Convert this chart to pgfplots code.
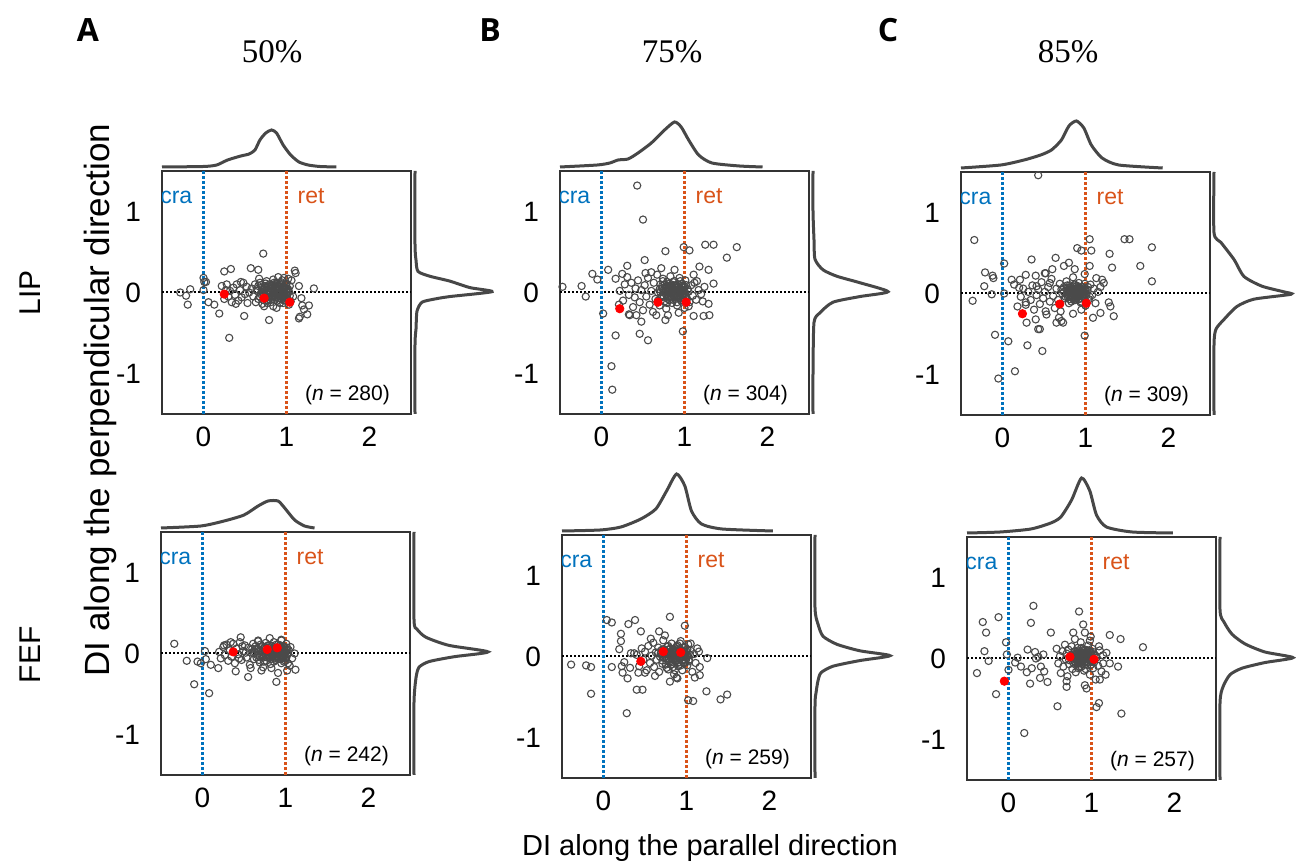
\documentclass[border=0pt]{standalone}
\usepackage{pgfplots}
\pgfplotsset{compat=1.18}
\usepackage{fontspec}
\setmainfont{Liberation Sans}
\newfontfamily\serifnum{Liberation Serif}
\newfontfamily\headfont{Open Sans}

\definecolor{cracol}{HTML}{0072BD}
\definecolor{retcol}{HTML}{D95319}
\definecolor{ptcol}{HTML}{4A4A4A}
\definecolor{denscol}{HTML}{474747}
\definecolor{boxcol}{HTML}{333333}

\newcommand{\tickfont}{\fontsize{14}{15}\selectfont}

\pgfplotsset{
  mainax/.style={anchor=south west, scale only axis, width=124.5pt, height=121.5pt,
    xmin=-0.5, xmax=2.5, ymin=-1.5, ymax=1.5, xtick={0,1,2}, ytick={-1,0,1},
    major tick length=0pt, axis line style={boxcol, line width=1pt},
    /pgf/number format/assume math mode=true,
    xticklabel style={font=\tickfont, yshift=-3pt},
    yticklabel style={font=\tickfont, xshift=-7pt}},
  topax/.style={anchor=south west, scale only axis, hide axis, width=124.5pt, height=25pt,
    xmin=-0.5, xmax=2.5, ymin=0, ymax=50, clip=false},
  rightax/.style={anchor=south west, scale only axis, hide axis, width=50pt, height=121.5pt,
    xmin=0, xmax=100, ymin=-1.5, ymax=1.5, clip=false},
  densline/.style={denscol, line width=1.5pt, smooth, tension=0.4, no markers},
  pts/.style={only marks, mark=o, mark size=1.8pt, ptcol, mark options={line width=0.55pt}},
  redpts/.style={only marks, mark=*, mark size=2.1pt, red},
}

% dotted guides and panel texts
\newcommand{\guides}[1]{%
  \addplot[black, line width=1pt, dash pattern=on 1pt off 1pt, no markers] coordinates {(-0.5,0) (2.5,0)};
  \addplot[cracol, line width=1.5pt, dash pattern=on 1.5pt off 1pt, no markers] coordinates {(0,-1.5) (0,1.5)};
  \addplot[retcol, line width=1.5pt, dash pattern=on 1.5pt off 1pt, no markers] coordinates {(1,-1.5) (1,1.5)};
  \node[anchor=base east, text=cracol, font=\fontsize{11.5}{12}\selectfont] at (axis cs:-0.05,1.1) {cra};
  \node[anchor=base west, text=retcol, font=\fontsize{11.5}{12}\selectfont] at (axis cs:1.05,1.1) {ret};
  \node[anchor=base east, font=\fontsize{10.5}{11}\selectfont] at (axis cs:2.33,-1.33) {(\textit{n} = #1)};
}

\begin{document}
\begin{tikzpicture}
\useasboundingbox (0pt,0pt) rectangle (648pt,433pt);

% ---------- A, LIP ----------
\begin{axis}[mainax, at={(81pt,226pt)}]
\guides{280}
\addplot[pts] coordinates {
(-0.28,0.00) (-0.21,-0.04) (-0.16,0.04) (-0.19,-0.15) (0.00,0.18) (0.01,0.13) (0.03,0.13) (0.00,0.03)
(0.06,-0.12) (0.13,-0.15) (0.19,-0.26) (0.25,0.26) (0.33,0.29) (0.31,-0.56) (0.49,-0.29) (0.57,0.30)
(0.66,0.28) (0.72,0.48) (0.79,-0.34) (0.88,-0.19) (1.10,0.27) (1.11,0.24) (1.15,0.08) (1.18,-0.07)
(1.19,-0.16) (1.21,-0.21) (1.25,-0.27) (1.27,-0.16) (1.16,-0.30) (1.15,-0.32) (1.33,0.05) (1.05,-0.11)
(1.06,0.15) (1.08,-0.05)
(0.22,0.08) (0.25,-0.08) (0.28,0.10) (0.30,-0.05) (0.32,0.02) (0.34,-0.12) (0.36,0.06) (0.38,-0.03)
(0.40,0.10) (0.42,-0.10) (0.44,0.03) (0.46,-0.06) (0.48,0.12) (0.50,-0.02) (0.52,0.07) (0.53,-0.13)
(0.55,0.00) (0.39,-0.14) (0.45,0.13) (0.27,0.03)
(0.58,0.05) (0.60,-0.05) (0.62,0.10) (0.63,-0.12) (0.65,0.02) (0.66,-0.08) (0.68,0.12) (0.69,-0.02)
(0.70,0.06) (0.71,-0.14) (0.72,0.00) (0.74,0.08) (0.75,-0.06) (0.76,0.14) (0.77,-0.10) (0.78,0.03)
(0.79,-0.03) (0.80,0.10) (0.81,-0.12) (0.82,0.05) (0.83,-0.05) (0.84,0.16) (0.85,0.00) (0.86,-0.09)
(0.87,0.07) (0.88,-0.02) (0.89,0.12) (0.90,-0.07) (0.91,0.03) (0.92,-0.13) (0.93,0.09) (0.94,-0.04)
(0.95,0.15) (0.96,0.01) (0.97,-0.10) (0.98,0.06) (0.99,-0.02) (1.00,0.11) (1.01,-0.08) (1.02,0.04)
(1.03,-0.15) (1.04,0.08) (1.02,0.17) (0.97,0.18) (0.90,0.19) (0.73,-0.17) (0.84,-0.17) (0.67,0.17)
(0.64,0.04) (0.66,0.08) (0.68,-0.05) (0.70,0.01) (0.72,-0.09) (0.73,0.04) (0.75,0.11) (0.76,-0.02)
(0.78,0.07) (0.79,-0.08) (0.80,0.02) (0.81,0.05) (0.82,-0.04) (0.83,0.09) (0.84,-0.01) (0.85,0.12)
(0.86,0.04) (0.87,-0.06) (0.88,0.02) (0.89,-0.10) (0.90,0.08) (0.91,-0.02) (0.92,0.05) (0.93,-0.07)
(0.94,0.10) (0.95,0.02) (0.96,-0.05) (0.97,0.03) (0.98,-0.09) (0.99,0.09) (1.00,0.00) (1.01,0.05)
(1.02,-0.11) (1.03,0.01) (1.04,-0.04) (0.87,0.11) (0.93,0.13) (0.77,-0.13) (0.69,0.09) (0.96,-0.13)
(0.71,0.03) (0.73,-0.03) (0.74,0.06) (0.76,0.02) (0.77,-0.06) (0.78,0.09) (0.80,-0.05) (0.81,0.01)
(0.82,0.08) (0.83,-0.08) (0.84,0.04) (0.85,-0.04) (0.86,0.09) (0.87,0.00) (0.88,0.05) (0.89,-0.05)
(0.90,0.02) (0.91,0.07) (0.92,-0.02) (0.93,0.01) (0.94,-0.08) (0.95,0.06) (0.96,-0.01) (0.97,0.07)
(0.98,0.00) (0.99,-0.06) (1.00,0.04) (1.01,-0.03)
};
\addplot[redpts] coordinates {(0.25,-0.02) (0.73,-0.07) (1.04,-0.12)};
\end{axis}
\begin{axis}[topax, at={(81pt,349.5pt)}]
\addplot[densline] coordinates {(-0.5,0) (0.0,0.5) (0.16,2) (0.29,7) (0.45,11) (0.55,13) (0.62,17) (0.68,27)
 (0.75,34) (0.82,37) (0.88,34) (0.96,22) (1.05,12) (1.15,5) (1.26,2) (1.4,0.5) (1.6,0)};
\end{axis}
\begin{axis}[rightax, at={(207.5pt,226pt)}]
\addplot[densline] coordinates {(0,-1.5) (0,-0.64) (1,-0.45) (2,-0.23) (7,-0.12) (20,-0.08) (35,-0.05) (77,0.01)
 (55,0.06) (35,0.14) (15,0.2) (3,0.26) (1,0.4) (0,0.59) (0,1.5)};
\end{axis}

% ---------- B, LIP ----------
\begin{axis}[mainax, at={(280pt,226pt)}]
\guides{304}
\addplot[pts] coordinates {
(-0.47,0.07) (-0.24,0.08) (-0.19,-0.05) (-0.11,0.23) (-0.05,0.16) (0.02,-0.26) (0.08,0.28) (0.13,-1.20)
(0.12,-0.91) (0.17,-0.53) (0.17,0.17) (0.21,-0.15) (0.25,0.23) (0.31,0.33) (0.31,0.19) (0.33,-0.27)
(0.34,-0.28) (0.42,-0.28) (0.41,0.05) (0.46,-0.51) (0.48,-0.36) (0.52,0.40) (0.53,0.24) (0.56,-0.59)
(0.50,0.90) (0.43,1.32) (0.66,-0.28) (0.77,-0.34) (0.77,0.51) (0.98,-0.48) (0.99,0.56) (1.06,0.52)
(1.11,0.22) (1.18,0.32) (1.25,0.59) (1.35,0.59) (1.29,0.28) (1.35,0.11) (1.51,0.43) (1.63,0.56)
(1.22,-0.11) (1.23,-0.29) (1.30,-0.28) (1.29,-0.14) (1.15,0.14) (1.05,-0.17) (1.11,-0.29)
(0.22,0.02) (0.26,-0.10) (0.28,0.10) (0.33,-0.03) (0.36,0.12) (0.38,-0.18) (0.40,-0.06) (0.44,0.15)
(0.46,-0.12) (0.48,0.03) (0.50,-0.22) (0.52,0.09) (0.54,-0.05) (0.56,0.18) (0.58,-0.15) (0.60,0.02)
(0.62,-0.24) (0.63,0.12) (0.65,-0.08) (0.67,0.22) (0.68,0.00) (0.70,-0.16) (0.71,0.10) (0.73,-0.04)
(0.74,0.17) (0.76,-0.11) (0.77,0.05) (0.78,-0.20) (0.79,0.13) (0.80,-0.02) (0.81,0.08) (0.82,-0.09)
(0.83,0.20) (0.84,0.01) (0.85,-0.13) (0.86,0.06) (0.87,-0.05) (0.88,0.14) (0.89,-0.01) (0.90,0.09)
(0.91,-0.16) (0.92,0.03) (0.93,-0.07) (0.94,0.18) (0.95,0.00) (0.96,-0.10) (0.97,0.11) (0.98,-0.03)
(0.99,0.06) (1.00,-0.19) (1.01,0.15) (1.02,-0.06) (1.04,0.04) (1.06,-0.12) (1.08,0.09) (1.10,-0.04)
(1.12,0.12) (1.14,-0.09) (1.17,0.03) (1.20,-0.02) (1.24,0.07) (0.72,0.30) (0.88,0.28) (0.60,0.25)
(0.93,-0.25) (0.80,-0.28)
(0.70,0.04) (0.72,-0.06) (0.73,0.08) (0.75,0.00) (0.76,0.10) (0.78,-0.03) (0.79,0.06) (0.80,-0.08)
(0.81,0.02) (0.82,0.11) (0.83,-0.04) (0.84,0.07) (0.85,0.00) (0.86,-0.09) (0.87,0.04) (0.88,-0.02)
(0.89,0.08) (0.90,-0.05) (0.91,0.01) (0.92,0.10) (0.93,-0.01) (0.94,0.05) (0.95,-0.07) (0.96,0.03)
(0.97,-0.03) (0.98,0.07) (0.99,-0.10) (1.00,0.02) (1.01,-0.02) (1.02,0.09) (1.03,-0.08) (1.05,0.01)
(0.86,0.13) (0.91,-0.12) (0.79,-0.13) (0.95,0.14) (0.68,-0.10) (0.74,0.14)
(0.71,0.00) (0.73,0.05) (0.75,-0.05) (0.77,0.02) (0.78,0.08) (0.80,0.04) (0.81,-0.05) (0.82,0.03)
(0.83,0.08) (0.84,-0.06) (0.85,0.05) (0.86,0.01) (0.87,0.09) (0.88,-0.06) (0.89,0.03) (0.90,0.06)
(0.91,-0.06) (0.92,0.00) (0.93,0.07) (0.94,-0.03) (0.95,0.04) (0.96,0.08) (0.97,0.00) (0.98,-0.06)
(0.99,0.03) (1.00,0.07) (1.01,-0.05)
};
\addplot[redpts] coordinates {(0.22,-0.20) (0.68,-0.12) (1.02,-0.12)};
\end{axis}
\begin{axis}[topax, at={(280pt,349.5pt)}]
\addplot[densline] coordinates {(-0.5,0) (-0.05,2) (0.1,4) (0.2,7) (0.32,8) (0.44,14) (0.6,24) (0.76,37)
 (0.88,45) (0.96,40) (1.05,27) (1.17,12) (1.33,4) (1.66,1) (1.94,0)};
\end{axis}
\begin{axis}[rightax, at={(406.5pt,226pt)}]
\addplot[densline] coordinates {(0,-1.5) (0,-1.0) (1,-0.37) (7,-0.25) (20,-0.12) (47,-0.05) (75,0.01)
 (47,0.12) (24,0.2) (10,0.28) (2,0.41) (1,0.65) (0,1.0) (0,1.5)};
\end{axis}

% ---------- C, LIP ----------
\begin{axis}[mainax, at={(480.5pt,225.5pt)}]
\guides{309}
\addplot[pts] coordinates {
(-0.36,-0.09) (-0.34,0.66) (-0.22,0.09) (-0.21,0.26) (-0.12,0.22) (-0.11,0.19) (-0.13,-0.01) (0.02,0.37)
(0.02,0.00) (-0.09,-0.51) (0.07,-0.59) (-0.05,-1.05) (0.15,-0.96) (0.11,0.17) (0.14,0.11) (0.20,0.07)
(0.18,-0.16) (0.28,-0.11) (0.29,-0.36) (0.30,-0.64) (0.35,0.42) (0.40,0.22) (0.41,0.09) (0.43,-0.44)
(0.45,-0.44) (0.48,-0.71) (0.51,0.25) (0.52,0.25) (0.57,0.13) (0.64,0.44) (0.65,-0.36) (0.74,0.34)
(0.80,0.38) (0.87,0.30) (0.43,1.46) (0.90,0.56) (0.95,0.53) (0.99,-0.52) (1.05,0.67) (1.07,0.53)
(1.05,0.34) (1.13,0.19) (1.20,0.17) (1.29,0.49) (1.22,0.13) (1.32,0.32) (1.34,-0.28) (1.28,-0.11)
(1.30,-0.16) (1.18,-0.24) (1.09,-0.30) (1.47,0.67) (1.53,0.67) (1.66,0.34) (1.80,0.57) (1.80,0.15)
(0.28,0.23) (0.21,0.17) (0.40,-0.32) (0.52,-0.22) (0.71,-0.34) (0.73,-0.36)
(0.22,-0.04) (0.25,0.06) (0.28,-0.14) (0.31,0.02) (0.34,-0.08) (0.36,0.10) (0.38,-0.20) (0.41,-0.02)
(0.43,0.05) (0.45,-0.13) (0.47,0.14) (0.49,-0.06) (0.51,0.02) (0.53,-0.26) (0.55,0.08) (0.57,-0.10)
(0.59,0.18) (0.61,-0.03) (0.63,-0.18) (0.65,0.06) (0.67,-0.08) (0.69,0.12) (0.70,-0.22) (0.72,0.00)
(0.74,0.08) (0.75,-0.06) (0.77,0.15) (0.78,-0.02) (0.79,0.04) (0.80,-0.12) (0.81,0.10) (0.82,0.00)
(0.83,-0.05) (0.84,0.06) (0.85,0.20) (0.86,-0.02) (0.87,0.03) (0.88,-0.08) (0.89,0.09) (0.90,0.01)
(0.91,-0.04) (0.92,0.13) (0.93,-0.01) (0.94,0.05) (0.95,-0.10) (0.96,0.02) (0.97,0.08) (0.98,-0.04)
(0.99,0.24) (1.00,-0.15) (1.02,0.05) (1.04,-0.07) (1.06,0.11) (1.08,-0.02) (1.10,0.06) (1.12,-0.12)
(1.15,0.02) (1.18,0.08) (0.60,0.30) (0.85,-0.25) (0.95,-0.20) (0.68,-0.30)
(0.74,0.02) (0.76,-0.04) (0.77,0.06) (0.79,-0.01) (0.80,0.04) (0.81,-0.07) (0.82,0.07) (0.83,0.01)
(0.84,-0.03) (0.85,0.09) (0.86,0.03) (0.87,-0.06) (0.88,0.05) (0.89,-0.02) (0.90,0.06) (0.91,0.02)
(0.92,-0.07) (0.93,0.04) (0.94,-0.02) (0.95,0.08) (0.96,-0.04) (0.97,0.03) (0.98,0.06) (0.99,-0.06)
(1.00,0.04) (1.01,-0.01) (1.03,0.08) (0.87,0.11) (0.83,-0.10) (0.94,-0.11) (0.78,0.10) (0.99,0.12)
(0.71,0.05) (1.05,-0.04)
(0.78,0.01) (0.79,-0.05) (0.80,0.07) (0.81,0.02) (0.82,-0.03) (0.83,0.05) (0.84,0.00) (0.85,-0.05)
(0.86,0.06) (0.87,0.01) (0.88,-0.03) (0.89,0.04) (0.90,-0.05) (0.91,0.07) (0.92,0.01) (0.93,-0.03)
(0.94,0.03) (0.95,-0.06) (0.96,0.05) (0.97,-0.01) (0.98,0.02) (0.99,-0.03) (0.86,-0.08) (0.91,0.09)
};
\addplot[redpts] coordinates {(0.24,-0.25) (0.69,-0.13) (1.01,-0.12)};
\end{axis}
\begin{axis}[topax, at={(480.5pt,349pt)}]
\addplot[densline] coordinates {(-0.5,0) (-0.02,3) (0.26,8) (0.46,13) (0.59,18) (0.71,28) (0.8,42) (0.89,47)
 (0.98,40) (1.07,23) (1.2,10) (1.4,3) (1.93,0)};
\end{axis}
\begin{axis}[rightax, at={(607pt,225.5pt)}]
\addplot[densline] coordinates {(0,-1.5) (0,-0.63) (2,-0.44) (10,-0.32) (23,-0.16) (40,-0.07) (77,-0.01)
 (70,0.02) (48,0.09) (30,0.21) (20,0.42) (7,0.63) (0,0.75) (0,1.5)};
\end{axis}

% ---------- A, FEF ----------
\begin{axis}[mainax, at={(80.5pt,45.5pt)}]
\guides{242}
\addplot[pts] coordinates {
(-0.34,0.12) (-0.19,-0.09) (-0.06,-0.10) (-0.02,-0.12) (-0.10,-0.38) (0.08,-0.49) (0.03,0.03) (0.04,-0.07)
(0.10,-0.14) (0.19,-0.18) (0.46,0.20) (0.55,-0.29) (0.89,-0.35) (1.12,-0.20) (1.11,0.00) (1.02,-0.21)
(0.91,-0.24) (0.71,-0.21) (0.83,-0.18) (0.26,0.10) (0.34,0.14) (0.67,0.16) (0.81,0.19) (0.95,0.17)
(0.40,-0.22)
(0.20,0.02) (0.22,-0.06) (0.25,0.08) (0.27,-0.02) (0.29,0.11) (0.31,-0.09) (0.33,0.04) (0.35,-0.04)
(0.37,0.12) (0.39,-0.12) (0.41,0.06) (0.43,-0.01) (0.45,0.14) (0.47,-0.08) (0.49,0.03) (0.51,0.10)
(0.53,-0.05) (0.55,0.07) (0.57,-0.14) (0.59,0.01) (0.61,0.12) (0.62,-0.07) (0.64,0.05) (0.66,-0.02)
(0.67,0.15) (0.69,-0.11) (0.70,0.03) (0.72,0.09) (0.73,-0.05) (0.75,0.00) (0.76,0.13) (0.77,-0.09)
(0.79,0.04) (0.80,-0.02) (0.81,0.10) (0.82,-0.13) (0.84,0.06) (0.85,-0.04) (0.86,0.14) (0.87,0.01)
(0.88,-0.08) (0.90,0.03) (0.91,0.11) (0.92,-0.05) (0.93,0.07) (0.95,-0.12) (0.96,0.00) (0.97,0.09)
(0.98,-0.03) (0.99,0.05) (1.00,-0.09) (1.01,0.12) (1.02,-0.01) (1.04,0.04) (1.05,-0.15) (1.06,0.08)
(1.08,-0.06) (0.58,-0.18) (0.73,-0.17) (0.95,0.16)
(0.60,0.06) (0.62,0.00) (0.64,0.09) (0.65,-0.05) (0.67,0.03) (0.68,-0.08) (0.70,0.11) (0.71,-0.02)
(0.73,0.05) (0.74,-0.10) (0.75,0.08) (0.77,0.01) (0.78,-0.05) (0.79,0.10) (0.80,0.03) (0.82,-0.07)
(0.83,0.02) (0.84,0.09) (0.85,-0.01) (0.86,-0.10) (0.87,0.06) (0.88,-0.04) (0.89,0.11) (0.90,0.00)
(0.91,-0.07) (0.92,0.04) (0.93,-0.02) (0.94,0.10) (0.95,0.05) (0.96,-0.06) (0.97,0.02) (0.98,-0.10)
(0.99,0.08) (1.00,0.01) (1.01,-0.05) (1.02,0.07) (1.03,-0.12) (0.48,0.09) (0.44,-0.06) (0.52,0.01)
(0.63,0.02) (0.66,0.06) (0.69,-0.04) (0.72,0.02) (0.74,0.07) (0.76,-0.04) (0.78,0.02) (0.80,0.07)
(0.81,-0.04) (0.83,0.05) (0.84,-0.03) (0.86,0.02) (0.87,-0.06) (0.88,0.07) (0.89,0.02) (0.90,-0.04)
(0.91,0.05) (0.93,0.00) (0.94,-0.07) (0.95,0.08) (0.96,0.03) (0.97,-0.04) (0.99,0.01) (1.00,-0.06)
(1.01,0.05) (1.03,0.00)
};
\addplot[redpts] coordinates {(0.37,0.02) (0.78,0.05) (0.90,0.07)};
\end{axis}
\begin{axis}[topax, at={(80.5pt,169pt)}]
\addplot[densline] coordinates {(-0.5,0) (-0.02,2) (0.26,7) (0.5,13) (0.67,22) (0.79,27) (0.91,27) (0.99,20)
 (1.11,8) (1.23,2) (1.35,0)};
\end{axis}
\begin{axis}[rightax, at={(207pt,45.5pt)}]
\addplot[densline] coordinates {(0,-1.5) (0,-0.6) (2,-0.3) (5,-0.17) (15,-0.1) (40,-0.04) (74,0.02) (35,0.1)
 (12,0.2) (3,0.3) (0,0.42) (0,1.5)};
\end{axis}

% ---------- B, FEF ----------
\begin{axis}[mainax, at={(281pt,44pt)}]
\guides{259}
\addplot[pts] coordinates {
(-0.39,-0.10) (-0.21,-0.11) (-0.15,-0.13) (-0.15,-0.46) (0.04,0.45) (0.10,0.42) (0.10,-0.13) (0.19,0.09)
(0.21,0.19) (0.21,0.28) (0.22,-0.12) (0.23,-0.20) (0.25,-0.07) (0.29,-0.27) (0.30,0.40) (0.38,0.45)
(0.45,0.31) (0.32,-0.14) (0.40,-0.41) (0.47,-0.41) (0.28,-0.70) (0.42,-0.20) (0.50,-0.20) (0.80,0.49)
(0.67,0.31) (0.98,0.38) (0.80,-0.31) (0.89,-0.27) (1.02,-0.54) (1.08,-0.55) (1.24,-0.43) (1.41,-0.53)
(1.49,-0.47) (1.16,-0.23) (1.15,0.06) (1.25,-0.02) (1.10,-0.26) (1.16,-0.13) (1.05,0.16) (0.33,0.04)
(0.37,0.04)
(0.40,0.02) (0.43,-0.12) (0.46,0.10) (0.48,-0.04) (0.50,0.06) (0.52,-0.17) (0.54,0.13) (0.56,-0.08)
(0.58,0.01) (0.60,0.17) (0.61,-0.13) (0.63,0.05) (0.64,-0.04) (0.66,0.11) (0.67,-0.19) (0.68,0.00)
(0.70,0.08) (0.71,-0.09) (0.72,0.20) (0.73,-0.02) (0.75,0.04) (0.76,-0.14) (0.77,0.12) (0.78,-0.05)
(0.79,0.02) (0.80,0.09) (0.81,-0.10) (0.82,0.16) (0.83,-0.01) (0.84,0.05) (0.85,-0.22) (0.86,0.10)
(0.87,-0.06) (0.88,0.01) (0.89,0.14) (0.90,-0.12) (0.91,0.04) (0.92,-0.03) (0.93,0.19) (0.94,0.08)
(0.95,-0.17) (0.96,0.02) (0.97,-0.07) (0.98,0.12) (0.99,-0.01) (1.00,0.06) (1.01,-0.11) (1.02,0.15)
(1.03,-0.04) (1.05,0.07) (1.07,-0.19) (1.09,0.03) (1.11,-0.08) (1.13,0.10) (0.57,0.22) (0.74,0.26)
(0.62,-0.24) (0.88,-0.26)
(0.69,0.04) (0.71,-0.05) (0.72,0.09) (0.74,0.00) (0.75,-0.10) (0.76,0.06) (0.78,0.13) (0.79,-0.03)
(0.80,0.03) (0.81,0.10) (0.82,-0.07) (0.83,0.05) (0.84,-0.13) (0.85,0.01) (0.86,0.08) (0.87,-0.03)
(0.88,0.12) (0.89,-0.08) (0.90,0.04) (0.91,-0.02) (0.92,0.09) (0.93,-0.11) (0.94,0.01) (0.95,0.06)
(0.96,-0.04) (0.97,0.11) (0.98,-0.08) (0.99,0.03) (1.00,-0.02) (1.01,0.09) (1.03,-0.06) (1.04,0.02)
(0.86,-0.17) (0.92,0.16) (0.78,-0.16) (0.66,0.05)
(0.72,0.02) (0.74,0.07) (0.76,-0.02) (0.77,0.04) (0.79,0.09) (0.80,-0.06) (0.81,0.00) (0.83,0.08)
(0.84,-0.04) (0.85,0.05) (0.86,-0.02) (0.87,0.10) (0.88,-0.05) (0.89,0.02) (0.90,0.08) (0.91,-0.07)
(0.92,0.03) (0.93,0.00) (0.94,0.07) (0.95,-0.05) (0.96,0.04) (0.97,0.00) (0.98,0.06) (0.99,-0.05)
(1.01,0.01)
};
\addplot[redpts] coordinates {(0.45,-0.06) (0.72,0.06) (0.93,0.05)};
\end{axis}
\begin{axis}[topax, at={(281pt,167.5pt)}]
\addplot[densline] coordinates {(-0.5,0) (-0.04,1) (0.21,4) (0.45,12) (0.63,22) (0.76,40) (0.88,57) (0.98,45)
 (1.06,20) (1.18,7) (1.43,2) (2.04,0)};
\end{axis}
\begin{axis}[rightax, at={(407.5pt,44pt)}]
\addplot[densline] coordinates {(0,-1.5) (0,-0.6) (1,-0.45) (3,-0.3) (6,-0.2) (18,-0.12) (45,-0.05) (75,0.01)
 (45,0.07) (22,0.15) (8,0.25) (3,0.4) (0,0.6) (0,1.5)};
\end{axis}

% ---------- C, FEF ----------
\begin{axis}[mainax, at={(483.5pt,43pt)}]
\guides{257}
\addplot[pts] coordinates {
(-0.38,-0.18) (-0.31,0.45) (-0.27,0.32) (-0.29,0.09) (-0.24,-0.03) (-0.15,-0.44) (-0.12,0.51) (-0.03,0.20)
(-0.02,0.05) (0.00,-0.14) (0.08,-0.05) (0.11,0.01) (0.15,-0.10) (0.19,-0.92) (0.22,-0.17) (0.23,0.11)
(0.26,-0.31) (0.27,0.44) (0.28,-0.12) (0.30,0.65) (0.32,0.08) (0.33,0.00) (0.36,0.02) (0.38,-0.24)
(0.39,-0.10) (0.42,0.05) (0.43,-0.16) (0.47,-0.29) (0.51,0.32) (0.59,-0.59) (0.70,-0.35) (0.78,0.32)
(0.85,0.58) (0.90,0.42) (0.92,0.32) (0.92,-0.33) (0.94,-0.37) (1.06,-0.60) (1.09,-0.55) (1.09,0.15)
(1.18,0.07) (1.22,0.29) (1.35,0.24) (1.32,-0.10) (1.36,-0.68) (1.62,0.14) (1.10,-0.26) (1.17,-0.20)
(1.22,-0.06) (1.14,-0.06) (0.99,0.27)
(0.58,0.12) (0.60,-0.06) (0.62,0.03) (0.63,-0.18) (0.65,0.09) (0.66,-0.10) (0.68,0.17) (0.69,-0.01)
(0.70,0.06) (0.71,-0.22) (0.72,0.11) (0.73,-0.07) (0.75,0.02) (0.76,0.15) (0.77,-0.13) (0.78,0.05)
(0.79,-0.03) (0.80,0.09) (0.81,-0.17) (0.82,0.00) (0.83,0.13) (0.84,-0.06) (0.85,0.04) (0.86,-0.11)
(0.87,0.20) (0.88,0.01) (0.89,-0.04) (0.90,0.07) (0.91,-0.15) (0.92,0.11) (0.93,-0.01) (0.94,0.04)
(0.95,-0.08) (0.96,0.16) (0.97,0.02) (0.98,-0.20) (0.99,0.08) (1.00,-0.04) (1.01,0.12) (1.02,-0.12)
(1.03,0.05) (1.05,-0.26) (1.06,0.01) (1.08,-0.09) (1.10,0.10) (1.12,-0.16) (1.14,0.04) (0.70,-0.28)
(0.80,0.24) (0.98,0.22)
(0.76,0.04) (0.78,-0.05) (0.79,0.08) (0.80,0.00) (0.81,-0.08) (0.82,0.05) (0.83,-0.02) (0.84,0.10)
(0.85,0.01) (0.86,-0.06) (0.87,0.06) (0.88,-0.10) (0.89,0.03) (0.90,-0.02) (0.91,0.09) (0.92,0.00)
(0.93,-0.07) (0.94,0.07) (0.95,0.01) (0.96,-0.04) (0.97,0.10) (0.98,0.02) (0.99,-0.08) (1.00,0.05)
(1.01,-0.02) (1.02,0.08) (1.03,-0.05) (0.88,0.13) (0.93,-0.13) (0.84,-0.12) (1.05,0.03) (0.73,-0.02)
(0.79,0.02) (0.80,-0.04) (0.81,0.06) (0.82,-0.01) (0.83,0.04) (0.84,-0.05) (0.85,0.07) (0.86,0.00)
(0.87,-0.04) (0.88,0.04) (0.89,-0.07) (0.90,0.05) (0.91,0.00) (0.92,-0.04) (0.93,0.06) (0.94,0.01)
(0.95,-0.05) (0.96,0.03) (0.97,-0.02) (0.98,0.07) (0.99,-0.03) (1.00,0.01) (0.89,0.10) (0.95,0.10)
};
\addplot[redpts] coordinates {(-0.05,-0.28) (0.74,0.02) (1.03,-0.01)};
\end{axis}
\begin{axis}[topax, at={(483.5pt,166.5pt)}]
\addplot[densline] coordinates {(-0.5,0) (-0.1,1) (0.27,4) (0.51,10) (0.63,16) (0.76,33) (0.88,55) (0.98,42)
 (1.06,18) (1.18,6) (1.49,1) (1.98,0)};
\end{axis}
\begin{axis}[rightax, at={(610pt,43pt)}]
\addplot[densline] coordinates {(0,-1.5) (0,-0.55) (3,-0.35) (10,-0.2) (22,-0.12) (45,-0.05) (73,0.01) (45,0.08)
 (25,0.18) (12,0.3) (4,0.45) (0,0.6) (0,1.5)};
\end{axis}

% ---------- titles and labels ----------
\node[font=\headfont\bfseries\fontsize{16}{16}\selectfont] at (44pt,418pt) {A};
\node[font=\headfont\bfseries\fontsize{16}{16}\selectfont] at (245pt,418pt) {B};
\node[font=\headfont\bfseries\fontsize{16}{16}\selectfont] at (444pt,418pt) {C};
\node[font=\serifnum\fontsize{16.5}{16}\selectfont] at (136pt,407pt) {50\%};
\node[font=\serifnum\fontsize{16.5}{16}\selectfont] at (336pt,407pt) {75\%};
\node[font=\serifnum\fontsize{16.5}{16}\selectfont] at (534pt,407pt) {85\%};
\node[rotate=90, font=\fontsize{15}{15}\selectfont] at (15pt,286.5pt) {LIP};
\node[rotate=90, font=\fontsize{15}{15}\selectfont] at (15pt,105.5pt) {FEF};
\node[rotate=90, font=\fontsize{17.5}{18}\selectfont] at (50pt,233pt) {DI along the perpendicular direction};
\node[font=\fontsize{14.5}{15}\selectfont] at (355pt,9pt) {DI along the parallel direction};
\end{tikzpicture}
\end{document}
